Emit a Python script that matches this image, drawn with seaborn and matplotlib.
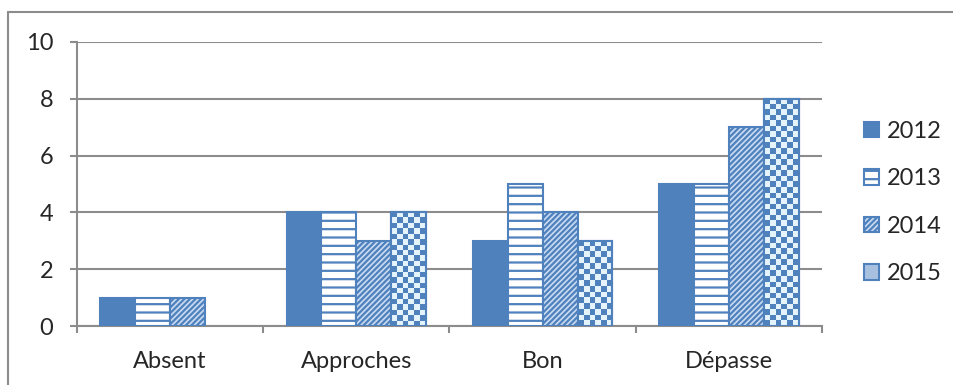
import numpy as np
import pandas as pd
import matplotlib
matplotlib.use("Agg")
import matplotlib.pyplot as plt
from matplotlib.patches import Patch
from matplotlib.lines import Line2D
import seaborn as sns

categories = ["Absent", "Approches", "Bon", "Dépasse"]
years = ["2012", "2013", "2014", "2015"]
v2012 = [1, 4, 3, 5]
v2013 = [1, 4, 5, 5]
v2014 = [1, 3, 4, 7]
v2015 = [np.nan, 4, 3, 8]
y_ticks = [0, 2, 4, 6, 8, 10]

BLUE = "#4F81BD"
GRID = "#8C8C8C"
FS = 17

df = pd.DataFrame({
    "cat": categories * 4,
    "year": sum([[y] * 4 for y in years], []),
    "val": v2012 + v2013 + v2014 + v2015,
})

sns.set_style("white")
plt.rcParams["font.family"] = ["Lato", "DejaVu Sans"]
plt.rcParams["hatch.linewidth"] = 1.6

fig = plt.figure(figsize=(9.54, 3.85), dpi=100)
ax = fig.add_axes([0.0807, 0.1532, 0.8616 - 0.0807, 0.891 - 0.1532])

sns.barplot(data=df, x="cat", y="val", hue="year", order=categories,
            hue_order=years, width=0.75, gap=0, ax=ax, legend=False,
            palette=[BLUE] * 4, saturation=1, zorder=3)

styles = {
    "2012": dict(face=BLUE, hatch=None, hcol=BLUE),
    "2013": dict(face="white", hatch="--", hcol="#8EA7CB"),
    "2014": dict(face="#C9DBF2", hatch="//////", hcol="#7B9DCB"),
    "2015": dict(face=BLUE, hatch=None, hcol=BLUE),
}

ax.set_ylim(0, 10)
ax.set_xlim(-0.5, 3.5)
ax.set_yticks(y_ticks)
ax.yaxis.grid(True, color=GRID, linewidth=1.5, zorder=0)
ax.set_axisbelow(True)

for year, cont in zip(years, ax.containers):
    st = styles[year]
    for bar in cont:
        bar.set_facecolor(st["face"])
        bar.set_edgecolor(BLUE)
        bar.set_linewidth(1.5)
        if st["hatch"]:
            bar.set_hatch(st["hatch"])
            try:
                bar.set_hatchcolor(st["hcol"])
            except AttributeError:
                pass

fig.canvas.draw()

# checkerboard fill for the 2015 bars
cell = 5.5
light = np.array([0.90, 0.96, 0.99])
dark = np.array(matplotlib.colors.to_rgb(BLUE))
for bar in ax.containers[3]:
    h = bar.get_height()
    if not np.isfinite(h) or h == 0:
        continue
    x0, y0 = bar.get_x(), bar.get_y()
    w = bar.get_width()
    p0 = ax.transData.transform((x0, y0))
    p1 = ax.transData.transform((x0 + w, y0 + h))
    nx = max(1, int(round((p1[0] - p0[0]) / cell)))
    ny = max(1, int(round((p1[1] - p0[1]) / cell)))
    ii, jj = np.indices((ny, nx))
    mask = ((ii + jj) % 2 == 0)[..., None]
    img = np.where(mask, dark, light)
    im = ax.imshow(img, extent=(x0, x0 + w, y0, y0 + h), origin="lower",
                   aspect="auto", interpolation="nearest", zorder=3.5)
    im.set_clip_path(bar)
    outline = plt.Rectangle((x0, y0), w, h, fill=False, edgecolor=BLUE,
                            linewidth=1.5, zorder=4)
    ax.add_patch(outline)

ax.set_xlim(-0.5, 3.5)
ax.set_ylim(0, 10)

for s in ["top", "right"]:
    ax.spines[s].set_visible(False)
for s in ["left", "bottom"]:
    ax.spines[s].set_color(GRID)
    ax.spines[s].set_linewidth(1.5)

ax.set_xlabel("")
ax.set_ylabel("")
ax.tick_params(axis="y", length=5, width=1.5, color=GRID, labelsize=FS,
               pad=12, left=True)
ax.tick_params(axis="x", length=0, labelsize=FS, pad=18)
ax.set_xticks([-0.5, 0.5, 1.5, 2.5, 3.5], minor=True)
ax.tick_params(axis="x", which="minor", length=5, width=1.5, color=GRID,
               bottom=True)

handles = []
for year in years:
    st = styles[year]
    if year == "2015":
        handles.append(Patch(facecolor="#A9C1E1", edgecolor=BLUE,
                             linewidth=1.5, label=year))
    else:
        handles.append(Patch(facecolor=st["face"], edgecolor=BLUE,
                             hatch=st["hatch"], linewidth=1.5, label=year))
fig.legend(handles=handles, loc="center left", bbox_to_anchor=(0.9057, 0.474),
           frameon=False, fontsize=FS, handlelength=0.64, handleheight=0.64,
           handletextpad=0.34, labelspacing=1.12, borderpad=0,
           borderaxespad=0)

# chart area border
fig.add_artist(Line2D([8 / 954, 8 / 954], [0, 1 - 12 / 385],
                      transform=fig.transFigure, color=GRID, linewidth=1.5))
fig.add_artist(Line2D([8 / 954, 1], [1 - 12 / 385, 1 - 12 / 385],
                      transform=fig.transFigure, color=GRID, linewidth=1.5))

fig.savefig("out.png", dpi=100)
